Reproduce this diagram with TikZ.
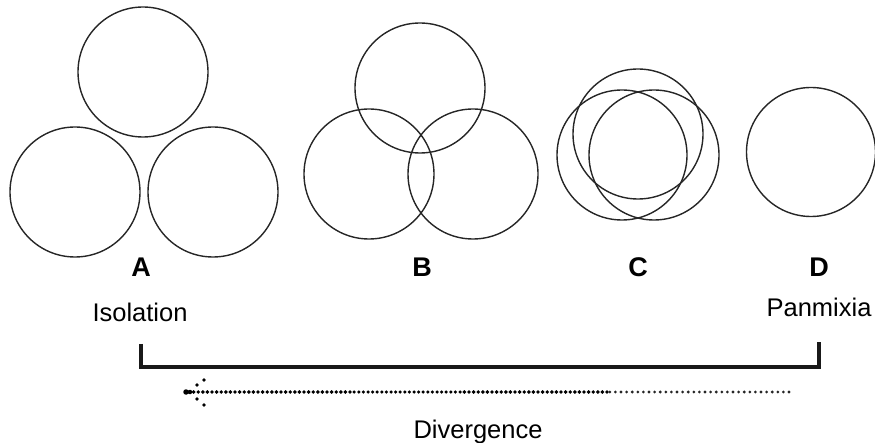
\documentclass[tikz,border=0pt]{standalone}
\usepackage{fontspec}
\setmainfont{Liberation Sans}
\begin{document}
\begin{tikzpicture}[x=1pt,y=-1pt,
  ring/.style={circle,draw=black!85,line width=1.4pt,minimum size=130pt,inner sep=0pt},
  ringd/.style={ring,minimum size=129pt},
  letter/.style={font=\fontsize{27}{30}\selectfont\bfseries,inner sep=0pt,anchor=base},
  caption/.style={font=\fontsize{25.5}{28}\selectfont,inner sep=0pt,anchor=base},
  bracket/.style={line width=4.5pt,black!90,line join=miter},
  dotsdense/.style={line width=3.9pt,line cap=round,dash pattern=on 0pt off 4.6pt,black},
  dotsmid/.style={line width=3.5pt,line cap=round,dash pattern=on 0pt off 4.6pt,black},
  dotssparse/.style={line width=3.1pt,line cap=round,dash pattern=on 0pt off 5.6pt,black!85},
  headdot/.style={circle,fill=black,inner sep=0pt,minimum size=3.6pt}]
\useasboundingbox (0,0) rectangle (875,443);
% group A
\node[ring] (a1) at (143,72) {};
\node[ring] (a2) at (75,192) {};
\node[ring] (a3) at (213,192) {};
% group B
\node[ring] (b1) at (420,88) {};
\node[ring] (b2) at (369,174) {};
\node[ring] (b3) at (473,174) {};
% group C
\node[ring] (c1) at (638,134) {};
\node[ring] (c2) at (622,155) {};
\node[ring] (c3) at (654,155) {};
% group D
\node[ringd] (d1) at (811,152) {};
% labels
\node[letter] (la) at (141,277) {A};
\node[letter] (lb) at (422,277) {B};
\node[letter] (lc) at (638,277) {C};
\node[letter] (ld) at (819,277) {D};
\node[caption] (iso) at (140,322) {Isolation};
\node[caption] (pan) at (819,317) {Panmixia};
\node[caption] (div) at (478,438) {Divergence};
% bracket
\coordinate (bl) at (141,344);
\coordinate (br) at (819,342);
\draw[bracket] (bl) -- (141,367) -- (819,367) -- (br);
% dotted arrow
\coordinate (tip) at (186,392);
\coordinate (m1) at (350,392);
\coordinate (m2) at (460,392);
\coordinate (m3) at (607,392);
\coordinate (tail) at (789,392);
\draw[dotssparse] (tail) -- (m3);
\draw[dotsdense] (m3) -- (m2);
\draw[dotsmid] (m2) -- (m1);
\draw[dotsdense] (m1) -- (tip);
\node[headdot,minimum size=5.5pt] (h0) at (tip) {};
\node[headdot,minimum size=4.5pt] (h5) at (190,392) {};
\node[headdot] (h1) at (197,385) {};
\node[headdot] (h2) at (204,380) {};
\node[headdot] (h3) at (197,399) {};
\node[headdot] (h4) at (204,405) {};
\end{tikzpicture}
\end{document}
